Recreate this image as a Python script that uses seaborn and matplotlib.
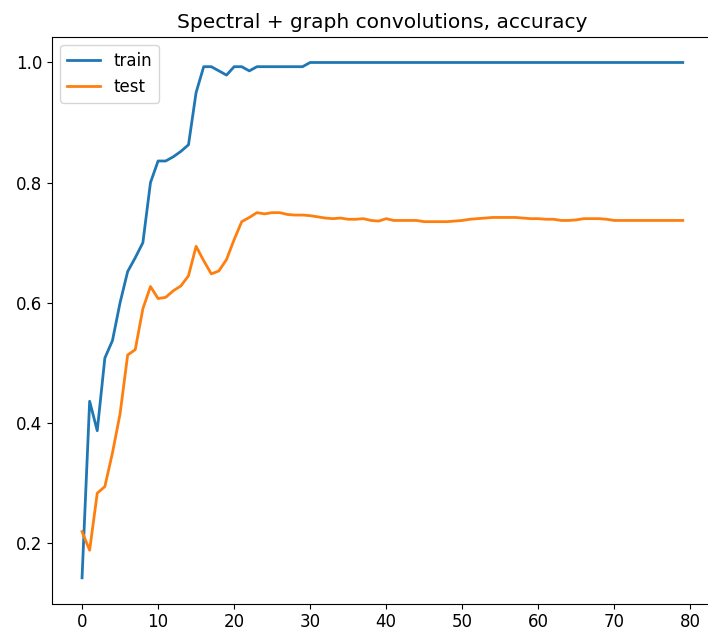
import matplotlib
matplotlib.use("Agg")
import matplotlib.pyplot as plt
import seaborn as sns
import pandas as pd
import numpy as np

epochs = list(range(80))

train_acc = [0.142, 0.436, 0.387, 0.508, 0.537, 0.600, 0.652, 0.675, 0.700, 0.800,
             0.836, 0.836, 0.843, 0.852, 0.863, 0.950, 0.993, 0.993, 0.986, 0.979,
             0.993, 0.993, 0.986, 0.993, 0.993, 0.993, 0.993, 0.993, 0.993, 0.993] + [1.0] * 50

test_acc = [0.219, 0.188, 0.283, 0.294, 0.350, 0.415, 0.513, 0.522, 0.590, 0.627,
            0.607, 0.609, 0.620, 0.628, 0.645, 0.694, 0.670, 0.648, 0.653, 0.672,
            0.705, 0.735, 0.742, 0.750, 0.748, 0.750, 0.750, 0.747, 0.746, 0.746,
            0.745, 0.743, 0.741, 0.740, 0.741, 0.739, 0.739, 0.740, 0.737, 0.736,
            0.740, 0.737, 0.737, 0.737, 0.737, 0.735, 0.735, 0.735, 0.735, 0.736,
            0.737, 0.739, 0.740, 0.741, 0.742, 0.742, 0.742, 0.742, 0.741, 0.740,
            0.740, 0.739, 0.739, 0.737, 0.737, 0.738, 0.740, 0.740, 0.740, 0.739,
            0.737, 0.737, 0.737, 0.737, 0.737, 0.737, 0.737, 0.737, 0.737, 0.737]

series_names = ["train", "test"]
colors = ["#1f77b4", "#ff7f0e"]
title = "Spectral + graph convolutions, accuracy"

df = pd.DataFrame({
    "epoch": epochs * 2,
    "accuracy": train_acc + test_acc,
    "series": [series_names[0]] * len(epochs) + [series_names[1]] * len(epochs),
})

plt.rcParams["font.size"] = 12

fig = plt.figure(figsize=(7.08, 6.33), dpi=100)
ax = fig.add_axes([52.0 / 708, 0.0464, 660.8 / 708, 0.8956])
sns.lineplot(data=df, x="epoch", y="accuracy", hue="series",
             palette=colors, ax=ax, linewidth=2.0)
ax.set_xlabel("")
ax.set_ylabel("")
ax.set_xticks(np.arange(0, 81, 10))
ax.set_yticks([0.2, 0.4, 0.6, 0.8, 1.0])
ax.spines["right"].set_visible(False)
ax.set_title(title, fontsize=14.5)
handles, labels = ax.get_legend_handles_labels()
ax.legend(handles, labels, loc="upper left")

fig.savefig("out.png", dpi=100)
